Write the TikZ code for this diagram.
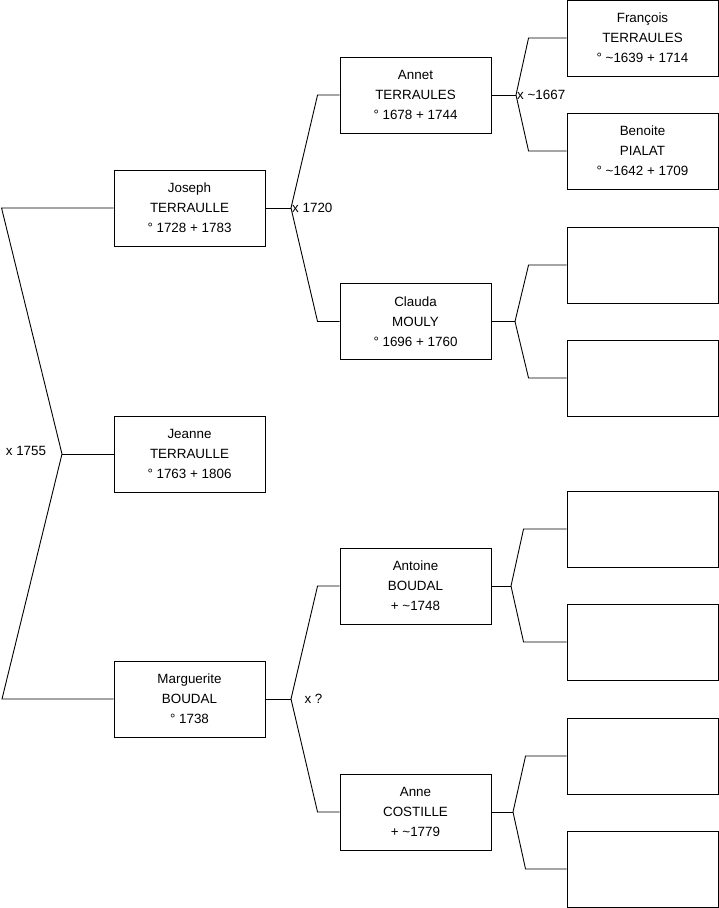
\documentclass[tikz,border=0pt]{standalone}
\usepackage{fontspec}
\setmainfont{Liberation Sans}

\begin{document}
\begin{tikzpicture}[x=1pt,y=-1pt,
  every node/.style={font=\fontsize{13.4}{20}\selectfont},
  person/.style={draw=black, line width=0.9pt, minimum width=151pt,
    minimum height=76pt, inner sep=0pt, align=center},
  link/.style={draw=black, line width=0.9pt}]
  \useasboundingbox (0,0) rectangle (719,908);

  % Generation 0
  \node[person] (joseph) at (189.5,208) {Joseph\\TERRAULLE\\° 1728 + 1783};
  \node[person] (jeanne) at (189.5,454) {Jeanne\\TERRAULLE\\° 1763 + 1806};
  \node[person] (marguerite) at (189.5,699) {Marguerite\\BOUDAL\\° 1738};

  % Generation 1
  \node[person] (annet) at (415.5,95) {Annet\\TERRAULES\\° 1678 + 1744};
  \node[person] (claude) at (415.5,321.5) {Clauda\\MOULY\\° 1696 + 1760};
  \node[person] (antoine) at (415.5,586) {Antoine\\BOUDAL\\+ \textasciitilde1748};
  \node[person] (anne) at (415.5,812) {Anne\\COSTILLE\\+ \textasciitilde1779};

  % Generation 2
  \node[person] (francois) at (642.5,38) {François\\TERRAULES\\° \textasciitilde1639 + 1714};
  \node[person] (benoite) at (642.5,151) {Benoite\\PIALAT\\° \textasciitilde1642 + 1709};
  \node[person] (g2c) at (642.5,265) {};
  \node[person] (g2d) at (642.5,378) {};
  \node[person] (g2e) at (642.5,529) {};
  \node[person] (g2f) at (642.5,642) {};
  \node[person] (g2g) at (642.5,756) {};
  \node[person] (g2h) at (642.5,869) {};

  % Marriage points
  \coordinate (x0) at (62,454);
  \coordinate (x1) at (291,208);
  \coordinate (x2) at (516,95);
  \coordinate (x3) at (515,321.5);
  \coordinate (x4) at (291,699);
  \coordinate (x5) at (511,586);
  \coordinate (x6) at (513,812);

  % Links
  \draw[link] (joseph.west) -- ++(-112,0) -- (x0) -- (2,699) -- (marguerite.west);
  \draw[link] (x0) -- (jeanne.west);

  \draw[link] (joseph.east) -- (x1);
  \draw[link] (annet.west) -- ++(-22,0) -- (x1) -- ([xshift=-22pt]claude.west) -- (claude.west);
  \draw[link] (marguerite.east) -- (x4);
  \draw[link] (antoine.west) -- ++(-22,0) -- (x4) -- ([xshift=-22pt]anne.west) -- (anne.west);

  \draw[link] (annet.east) -- (x2);
  \draw[link] (francois.west) -- ++(-38,0) -- (x2) -- ([xshift=-38pt]benoite.west) -- (benoite.west);
  \draw[link] (claude.east) -- (x3);
  \draw[link] (g2c.west) -- ++(-38,0) -- (x3) -- ([xshift=-38pt]g2d.west) -- (g2d.west);
  \draw[link] (antoine.east) -- (x5);
  \draw[link] (g2e.west) -- ++(-43,0) -- (x5) -- ([xshift=-43pt]g2f.west) -- (g2f.west);
  \draw[link] (anne.east) -- (x6);
  \draw[link] (g2g.west) -- ++(-41,0) -- (x6) -- ([xshift=-41pt]g2h.west) -- (g2h.west);

  % Marriage dates
  \node (m0) at (26,451) {x 1755};
  \node[anchor=west, inner sep=1pt] (m1) at (x1) {x 1720};
  \node[anchor=west, inner sep=1pt] (m2) at (x2) {x \textasciitilde1667};
  \node[anchor=west] (m4) at ([xshift=10pt]x4) {x ?};
\end{tikzpicture}
\end{document}
